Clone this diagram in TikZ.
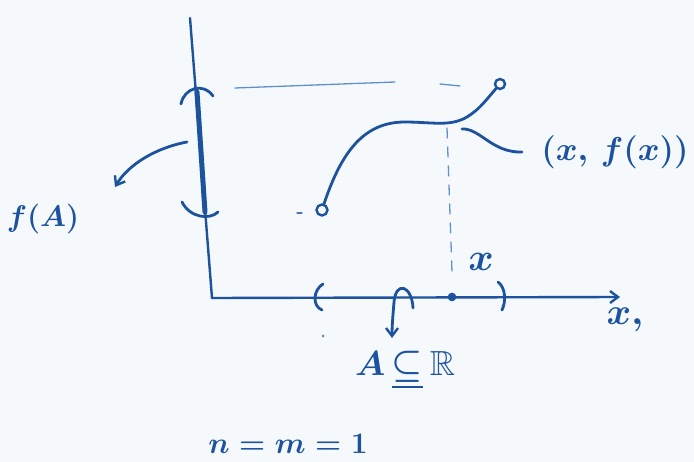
\documentclass[tikz,border=0pt]{standalone}
\usepackage{amssymb}
\usetikzlibrary{arrows.meta}
\definecolor{ink}{RGB}{28,82,158}
\definecolor{lightink}{RGB}{95,145,205}
\definecolor{paper}{RGB}{246,249,252}
\tikzset{
  pen/.style={draw=ink, line width=2.8pt, line cap=round, line join=round},
  thinpen/.style={draw=lightink, line width=1.3pt, line cap=round},
  hand/.style={text=ink, font=\fontsize{24.88}{28}\selectfont\boldmath, inner sep=0pt, scale=#1},
  hand/.default=1.3,
  tip/.style={-{Straight Barb[length=8pt,width=12pt,line width=2.4pt]}},
  endpt/.style={circle, draw=ink, line width=2.4pt, minimum size=11pt, inner sep=0pt, fill=paper}
}
\begin{document}
\begin{tikzpicture}[x=1pt,y=-1pt]
\fill[paper] (0,0) rectangle (694,462);
\useasboundingbox (0,0) rectangle (694,462);
% axes
\coordinate (ytop) at (190,18);
\coordinate (orig) at (212,298);
\coordinate (xend) at (620,297);
\draw[pen, line width=2.4pt] (ytop) -- (orig);
\draw[pen, line width=2.4pt, tip] (orig) -- (xend);
% f(A) interval on y axis
\coordinate (fa1) at (197,92);
\coordinate (fa2) at (205,212);
\draw[pen, line width=5pt] (fa1) -- (fa2);
\draw[pen] (181,104) .. controls (184,88) and (203,82) .. (213,96);
\draw[pen] (182,202) .. controls (190,218) and (210,220) .. (218,212);
% top dashed line
\draw[thinpen] (235,88) -- (395,82);
\draw[thinpen] (440,84) -- (460,86);
% vertical dashed line
\coordinate (vtop) at (447,128);
\coordinate (vbot) at (452,272);
\draw[thinpen, dash pattern=on 10pt off 9pt] (vtop) -- (vbot);
% curve
\node[endpt] (p0) at (322,210) {};
\node[endpt, minimum size=10pt] (p1) at (500,84) {};
\draw[pen] (p0) .. controls (342,150) and (365,122) .. (405,122)
  .. controls (432,122) and (450,127) .. (467,117)
  .. controls (480,109) and (486,100) .. (p1);
\draw[thinpen, draw=ink!80] (297,213) -- (302,213);
% label (x,f(x))
\node[hand=1.33] (pt) at (615,152) {$(x,\,f(x))$};
\coordinate (c1) at (462,129);
\draw[pen] (c1) .. controls (480,128) and (492,153) .. (522,152);
% x axis interval
\draw[pen] (323,284) .. controls (313,290) and (312,306) .. (322,310);
\draw[pen] (320,298) -- (336,298);
\draw[pen] (498,282) .. controls (506,288) and (506,302) .. (502,310);
\node[circle, fill=ink, draw=ink, line width=1.5pt, minimum size=7pt, inner sep=0pt] (xdot) at (452,297) {};
\node[hand=1.55] (xlab) at (481,262) {$x$};
% hook arrow to A
\coordinate (h0) at (413,308);
\coordinate (h1) at (392,338);
\draw[pen, tip] (h0) .. controls (412,286) and (396,280) .. (394,302) .. controls (393,315) and (392,325) .. (h1);
\node[hand=1.4] (alab) at (405,370) {$A\,\underline{\subseteq}\,\mathbb{R}$};
\fill[ink!70] (323,336) circle (1.5pt);
% f(A) arrow
\coordinate (a0) at (187,142);
\coordinate (a1) at (115,187);
\draw[pen, tip] (a0) .. controls (155,148) and (128,165) .. (a1);
\node[hand=1.2] (falab) at (43,219) {$f(A)$};
% x, label
\node[hand=1.5] (xaxlab) at (625,320) {$x,$};
% n=m=1
\node[hand=1.2] (nm) at (288,444) {$n=m=1$};
\end{tikzpicture}
\end{document}
